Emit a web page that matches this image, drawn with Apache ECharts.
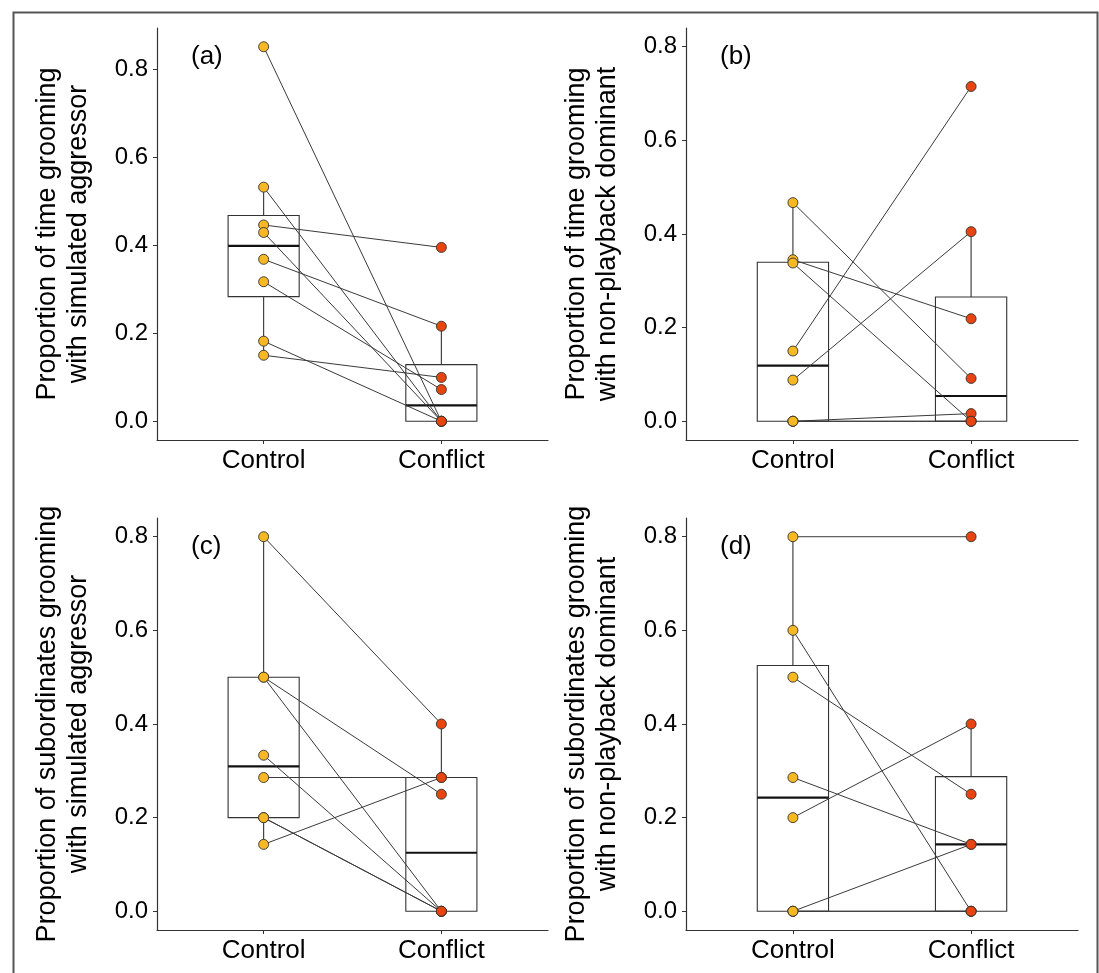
<!DOCTYPE html>
<html>
<head>
<meta charset="utf-8">
<script src="https://cdn.jsdelivr.net/npm/echarts@6/dist/echarts.min.js"></script>
<style>
html,body{margin:0;padding:0;background:#fff;}
#chart{width:1099px;height:973px;}
</style>
</head>
<body>
<div id="chart"></div>
<script>
// ---------- data ----------
const categories = ['Control', 'Conflict'];
const panelLabels = ['(a)', '(b)', '(c)', '(d)'];
const yTitles = [
  'Proportion of time grooming\nwith simulated aggressor',
  'Proportion of time grooming\nwith non-playback dominant',
  'Proportion of subordinates grooming\nwith simulated aggressor',
  'Proportion of subordinates grooming\nwith non-playback dominant'
];
const yTickValues = [0, 0.2, 0.4, 0.6, 0.8];
// paired values (same index = same individual)
const aControl  = [0.851, 0.532, 0.446, 0.429, 0.368, 0.317, 0.182, 0.150];
const aConflict = [0.000, 0.000, 0.395, 0.000, 0.216, 0.072, 0.000, 0.0996];
const bControl  = [0.467, 0.345, 0.338, 0.150, 0.088, 0.000, 0.000, 0.000];
const bConflict = [0.0915, 0.219, 0.000, 0.715, 0.405, 0.0164, 0.000, 0.000];
const cControl  = [0.800, 0.500, 0.500, 0.3333, 0.2857, 0.200, 0.200, 0.1429];
const cConflict = [0.400, 0.250, 0.000, 0.000, 0.2857, 0.000, 0.000, 0.2857];
const dControl  = [0.800, 0.600, 0.500, 0.2857, 0.200, 0.000, 0.000, 0.000];
const dConflict = [0.800, 0.000, 0.250, 0.1429, 0.400, 0.1429, 0.000, 0.000];
// y axis limits per panel
const yLimits = [[-0.0426, 0.8936], [-0.04, 0.84], [-0.04, 0.84], [-0.04, 0.84]];

const panels = [
  [aControl, aConflict], [bControl, bConflict], [cControl, cConflict], [dControl, dConflict]
];

// ---------- layout ----------
const grids = [
  {left: 157, top: 28, width: 391, height: 412},
  {left: 686, top: 28, width: 392, height: 412},
  {left: 157, top: 518, width: 391, height: 412},
  {left: 686, top: 518, width: 392, height: 412}
];
const FONT = 'Liberation Sans, Arial, sans-serif';
const COL_CONTROL = '#F6B823';
const COL_CONFLICT = '#E9440F';

function quant(arr, p) {
  const s = [...arr].sort((a, b) => a - b);
  const h = (s.length - 1) * p;
  const lo = Math.floor(h);
  const hi = Math.min(lo + 1, s.length - 1);
  return s[lo] + (h - lo) * (s[hi] - s[lo]);
}
function boxStats(arr) {
  const q1 = quant(arr, 0.25), med = quant(arr, 0.5), q3 = quant(arr, 0.75);
  const iqr = q3 - q1;
  const hiLim = q3 + 1.5 * iqr, loLim = q1 - 1.5 * iqr;
  const inside = arr.filter(v => v >= loLim && v <= hiLim);
  return [Math.min(...inside), q1, med, q3, Math.max(...inside)];
}

const xAxes = [], yAxes = [], series = [], graphics = [];

panels.forEach((pair, i) => {
  xAxes.push({
    type: 'value', gridIndex: i, min: 0.4, max: 2.6,
    splitLine: {show: false},
    axisLine: {onZero: false, lineStyle: {color: '#333', width: 1.2}},
    axisTick: {customValues: [1, 2], length: 4, lineStyle: {color: '#333', width: 1}},
    axisLabel: {customValues: [1, 2], formatter: v => categories[Math.round(v) - 1],
      fontSize: 26, color: '#000', fontFamily: FONT, margin: 8}
  });
  yAxes.push({
    type: 'value', gridIndex: i, min: yLimits[i][0], max: yLimits[i][1],
    splitLine: {show: false},
    axisLine: {show: true, onZero: false, lineStyle: {color: '#333', width: 1.2}},
    axisTick: {show: true, customValues: yTickValues, length: 4, lineStyle: {color: '#333', width: 1}},
    axisLabel: {customValues: yTickValues, formatter: v => v.toFixed(1),
      fontSize: 24, color: '#000', fontFamily: FONT, margin: 9},
    name: yTitles[i], nameLocation: 'middle', nameRotate: 90, nameGap: 63,
    nameTextStyle: {fontSize: 27, color: '#000', fontFamily: FONT, lineHeight: 31, align: 'center'}
  });

  // box plots
  const boxData = pair.map((vals, k) => [k + 1, ...boxStats(vals)]);
  series.push({
    type: 'custom', xAxisIndex: i, yAxisIndex: i, z: 1, silent: true,
    data: boxData,
    encode: {x: 0, y: [1, 2, 3, 4, 5]},
    renderItem: (params, api) => {
      const x = api.value(0);
      const lo = api.coord([x, api.value(1)]);
      const q1 = api.coord([x - 0.2, api.value(2)]);
      const med = api.coord([x - 0.2, api.value(3)]);
      const q3 = api.coord([x - 0.2, api.value(4)]);
      const hi = api.coord([x, api.value(5)]);
      const right = api.coord([x + 0.2, api.value(2)])[0];
      const stroke = {stroke: '#333', lineWidth: 1.1, fill: null};
      return {
        type: 'group',
        children: [
          {type: 'line', shape: {x1: hi[0], y1: hi[1], x2: hi[0], y2: q3[1]}, style: stroke},
          {type: 'line', shape: {x1: lo[0], y1: lo[1], x2: lo[0], y2: q1[1]}, style: stroke},
          {type: 'rect', shape: {x: q3[0], y: q3[1], width: right - q3[0], height: q1[1] - q3[1]},
            style: {stroke: '#333', lineWidth: 1.1, fill: 'rgba(255,255,255,0)'}},
          {type: 'line', shape: {x1: med[0], y1: med[1], x2: right, y2: med[1]},
            style: {stroke: '#111', lineWidth: 2.2}}
        ]
      };
    }
  });

  // paired lines
  pair[0].forEach((c, k) => {
    series.push({
      type: 'line', xAxisIndex: i, yAxisIndex: i, z: 2, silent: true,
      symbol: 'none', animation: false,
      lineStyle: {color: '#3a3a3a', width: 1},
      data: [[1, c], [2, pair[1][k]]]
    });
  });

  // points
  [0, 1].forEach(k => {
    series.push({
      type: 'scatter', xAxisIndex: i, yAxisIndex: i, z: 3, silent: true,
      symbol: 'circle', symbolSize: 10,
      itemStyle: {color: k === 0 ? COL_CONTROL : COL_CONFLICT, borderColor: '#333', borderWidth: 0.9, opacity: 1},
      data: pair[k].map(v => [k + 1, v])
    });
  });

  graphics.push({
    type: 'text', left: grids[i].left + 34, top: grids[i].top + 16, z: 10,
    style: {text: panelLabels[i], fontSize: 26, fontFamily: FONT, fill: '#000'}
  });
});

graphics.push({
  type: 'rect', left: 11, top: 10, z: 0, silent: true,
  shape: {x: 0, y: 0, width: 1084, height: 1000},
  style: {fill: 'none', stroke: '#555', lineWidth: 2}
});

const chart = echarts.init(document.getElementById('chart'), null, {renderer: 'canvas'});
chart.setOption({
  animation: false,
  backgroundColor: '#fff',
  grid: grids,
  xAxis: xAxes,
  yAxis: yAxes,
  series: series,
  graphic: graphics
});
</script>
</body>
</html>
